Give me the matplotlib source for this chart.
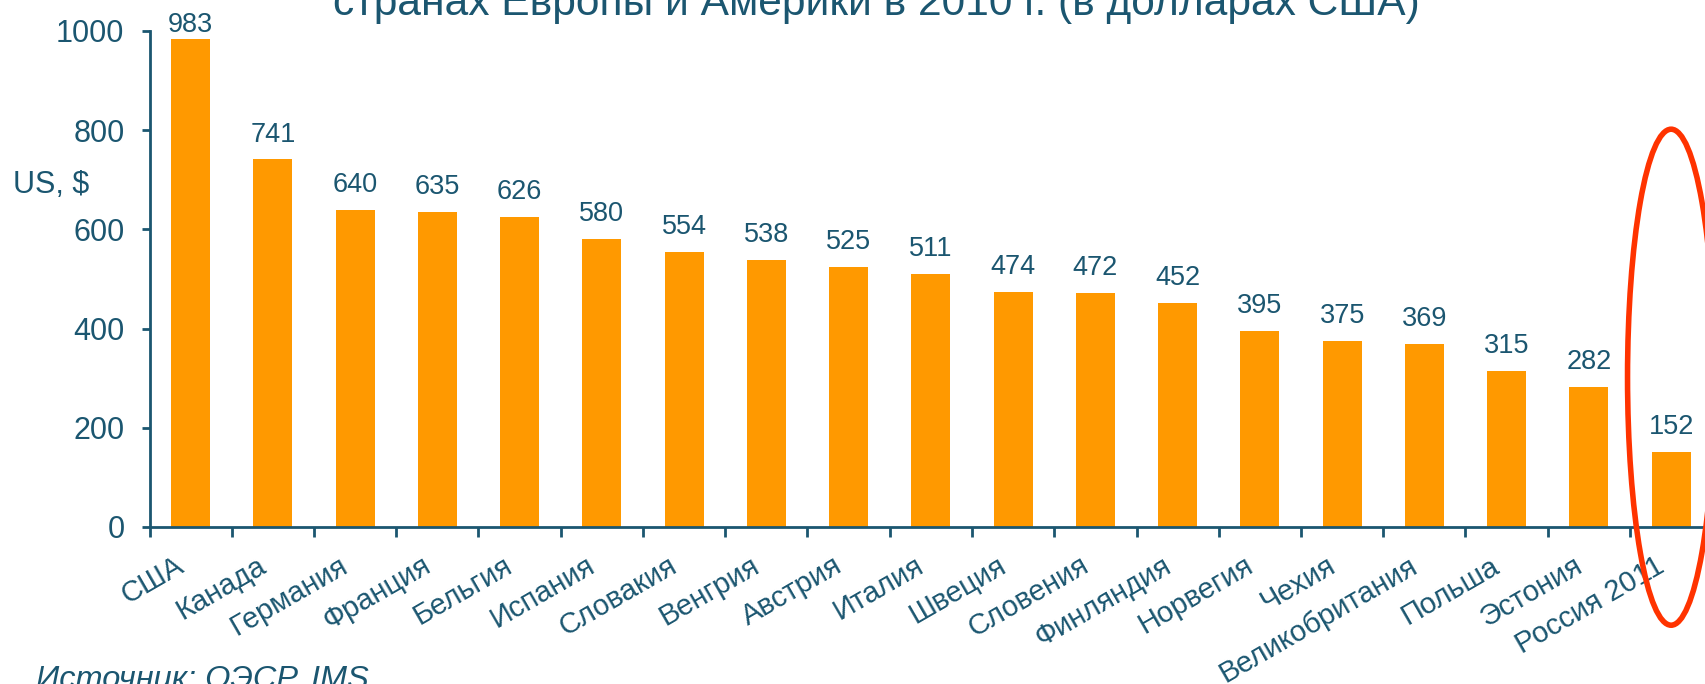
import matplotlib
matplotlib.use("Agg")
import matplotlib.pyplot as plt
from matplotlib.patches import Ellipse
from matplotlib.ticker import FixedLocator
from matplotlib.transforms import ScaledTranslation

categories = ["США", "Канада", "Германия", "Франция", "Бельгия", "Испания",
              "Словакия", "Венгрия", "Австрия", "Италия", "Швеция", "Словения",
              "Финляндия", "Норвегия", "Чехия", "Великобритания", "Польша",
              "Эстония", "Россия 2011"]
values = [983, 741, 640, 635, 626, 580, 554, 538, 525, 511, 474, 472, 452,
          395, 375, 369, 315, 282, 152]
yticks = [0, 200, 400, 600, 800, 1000]

title_line = "странах Европы и Америки в 2010 г. (в долларах США)"
ylabel = "US, $"
source = "Источник: ОЭСР, IMS"

TEXT = "#1B5670"
BAR = "#FF9900"
RED = "#FF3300"

plt.rcParams['font.family'] = ['Liberation Sans', 'DejaVu Sans']

W, H = 1706, 684
fig = plt.figure(figsize=(W / 100, H / 100), dpi=100)
ax_left, ax_bottom_px, ax_top_px = 149.5, 527, 31
n = len(categories)
slot = 82.25
ax = fig.add_axes([ax_left / W, (H - ax_bottom_px) / H,
                   n * slot / W, (ax_bottom_px - ax_top_px) / H])

x = list(range(n))
ax.bar(x, values, width=0.474, color=BAR, zorder=2)
ax.set_xlim(-0.5, n - 0.5)
ax.set_ylim(0, 1000)

for xi, v in zip(x, values):
    ax.text(xi, min(v + 36, 997), str(v), ha='center', va='baseline',
            fontsize=19.5, color=TEXT)

for s in ['top', 'right']:
    ax.spines[s].set_visible(False)
for s in ['left', 'bottom']:
    ax.spines[s].set_color(TEXT)
    ax.spines[s].set_linewidth(2)

ax.set_yticks(yticks)
ax.tick_params(axis='y', colors=TEXT, labelsize=22, length=6, width=2, pad=12)
ax.set_xticks(x)
ax.set_xticklabels(categories, rotation=30, ha='right', rotation_mode='anchor',
                   fontsize=21, color=TEXT)
ax.tick_params(axis='x', which='major', length=0, pad=14)
shift = ScaledTranslation(-0.16, -0.05, fig.dpi_scale_trans)
for lab in ax.get_xticklabels():
    lab.set_transform(lab.get_transform() + shift)
ax.xaxis.set_minor_locator(FixedLocator([i - 0.5 for i in range(n + 1)]))
ax.tick_params(axis='x', which='minor', length=7, width=2, color=TEXT)

ax.add_patch(Ellipse((n - 1, 302), 1.06, 1000, fill=False, edgecolor=RED,
                     linewidth=4, clip_on=False, zorder=5))

fig.text(876 / W, 1 - 15 / H, title_line, ha='center', va='baseline',
         fontsize=30.6, color=TEXT)
fig.text(13 / W, 1 - 193 / H, ylabel, ha='left', va='baseline',
         fontsize=22, color=TEXT)
fig.text(36 / W, 1 - 688 / H, source, ha='left', va='baseline',
         fontsize=23.4, color=TEXT, style='italic')

fig.savefig("out.png", dpi=100)
